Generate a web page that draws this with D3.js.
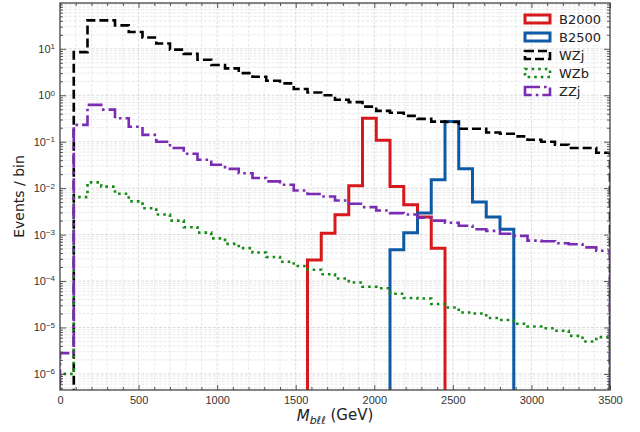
<!DOCTYPE html>
<html>
<head>
<meta charset="utf-8">
<script src="https://cdn.jsdelivr.net/npm/d3@7"></script>
<style>
  body { margin: 0; background: #fff; }
  svg { font-family: 'DejaVu Sans', sans-serif; }
</style>
</head>
<body>
<div id="chart"></div>
<script>
// 40 bins of 87.5 GeV from 0 to 3500
const binWidth = 87.5;
const nBins = 40;

const seriesNames = ['B2000', 'B2500', 'WZj', 'WZb', 'ZZj'];

const b2000 = [0, 0, 0, 0, 0, 0, 0, 0, 0, 0,
  0, 0, 0, 0, 0, 0, 0, 0, 2.85e-4, 1.07e-3,
  2.66e-3, 0.0112, 0.32, 0.107, 0.0108, 0.0044, 0.0024, 0.00051, 0, 0,
  0, 0, 0, 0, 0, 0, 0, 0, 0, 0];

const b2500 = [0, 0, 0, 0, 0, 0, 0, 0, 0, 0,
  0, 0, 0, 0, 0, 0, 0, 0, 0, 0,
  0, 0, 0, 0, 4.7e-4, 1.1e-3, 2.9e-3, 0.0151, 0.272, 0.026,
  0.0050, 0.0024, 0.00131, 0, 0, 0, 0, 0, 0, 0];

const wzj = [0, 8.5, 41, 41, 32, 23, 17.5, 13, 9.6, 7.8,
  5.8, 4.5, 3.8, 3.0, 2.5, 2.05, 1.8, 1.36, 1.15, 1.0,
  0.80, 0.71, 0.57, 0.46, 0.42, 0.36, 0.31, 0.27, 0.265, 0.19,
  0.19, 0.158, 0.148, 0.13, 0.11, 0.10, 0.086, 0.073, 0.073, 0.058];

const wzb = [1.0e-6, 0.0064, 0.0133, 0.0108, 0.0076, 0.0052, 0.0037, 0.0027, 0.0020, 0.00144,
  0.0011, 0.00083, 0.00063, 0.00051, 0.00041, 0.00033, 0.00026, 0.00021, 1.75e-4, 1.4e-4,
  1.13e-4, 9.3e-5, 7.5e-5, 7.0e-5, 5.3e-5, 4.3e-5, 4.2e-5, 3.2e-5, 2.7e-5, 2.1e-5,
  2.0e-5, 1.6e-5, 1.45e-5, 1.2e-5, 1.05e-5, 9.6e-6, 8.5e-6, 6.6e-6, 5.0e-6, 6.2e-6];

const zzj = [2.8e-6, 0.23, 0.62, 0.49, 0.32, 0.21, 0.14, 0.10, 0.073, 0.055,
  0.041, 0.032, 0.026, 0.021, 0.0165, 0.014, 0.0118, 0.0089, 0.0075, 0.0066,
  0.0054, 0.0046, 0.0039, 0.0033, 0.0029, 0.0027, 0.0023, 0.0020, 0.0018, 0.00155,
  0.0013, 0.0012, 0.00104, 0.00094, 0.00074, 0.00072, 0.00065, 0.00062, 0.00053, 0.00045];

const xTicks = [0, 500, 1000, 1500, 2000, 2500, 3000, 3500];
const yTicks = [1e-6, 1e-5, 1e-4, 1e-3, 1e-2, 1e-1, 1, 10];
const yExponents = ['−6', '−5', '−4', '−3', '−2', '−1', '0', '1'];

const styles = {
  B2000: { color: '#d7191c', width: 3, dash: null },
  B2500: { color: '#0f5aa5', width: 3, dash: null },
  WZj: { color: '#000000', width: 2.6, dash: '9,4' },
  WZb: { color: '#168a16', width: 2.6, dash: '2.6,4' },
  ZZj: { color: '#7a2db3', width: 2.6, dash: '15,4,2.6,4' }
};

const seriesData = { B2000: b2000, B2500: b2500, WZj: wzj, WZb: wzb, ZZj: zzj };

const W = 640, H = 432;
const margin = { top: 3, right: 30, bottom: 42, left: 60 };
const width = W - margin.left - margin.right,
  height = H - margin.top - margin.bottom;

const svg = d3.select('#chart')
  .append('svg')
    .attr('width', W)
    .attr('height', H);

const g = svg.append('g')
  .attr('transform', 'translate(' + margin.left + ',' + margin.top + ')');

const xScale = d3.scaleLinear()
  .domain([0, 3500])
  .range([0, width]);

const yScale = d3.scaleLog()
  .domain([4.5e-7, 97])
  .range([height, 0]);

// minor tick values
const xMinor = d3.range(0, 3501, 100).filter(v => v % 500 !== 0);
const yMinor = [];
for (let e = -7; e <= 1; e++) {
  for (let m = 2; m <= 9; m++) {
    const v = m * Math.pow(10, e);
    if (v > 4.5e-7 && v < 97) yMinor.push(v);
  }
}

// grid
const grid = g.append('g').attr('class', 'grid');
grid.selectAll('.gx')
  .data(d3.range(100, 3500, 100))
  .enter()
  .append('line')
    .attr('x1', d => xScale(d)).attr('x2', d => xScale(d))
    .attr('y1', 0).attr('y2', height)
    .attr('stroke', d => d % 500 === 0 ? '#cfcfcf' : '#e0e0e0')
    .attr('stroke-width', 0.7)
    .attr('stroke-dasharray', '3,1.5');
grid.selectAll('.gy')
  .data(yTicks.concat(yMinor))
  .enter()
  .append('line')
    .attr('x1', 0).attr('x2', width)
    .attr('y1', d => yScale(d)).attr('y2', d => yScale(d))
    .attr('stroke', d => yTicks.includes(d) ? '#cfcfcf' : '#e0e0e0')
    .attr('stroke-width', 0.7)
    .attr('stroke-dasharray', '3,1.5');

// histograms
g.append('clipPath').attr('id', 'plot-clip')
  .append('rect').attr('width', width).attr('height', height);

function stepPoints(values) {
  const pts = [];
  const low = height + 20;
  const yOf = v => v > 0 ? yScale(v) : low;
  pts.push([xScale(0), low]);
  values.forEach((v, i) => {
    pts.push([xScale(i * binWidth), yOf(v)]);
    pts.push([xScale((i + 1) * binWidth), yOf(v)]);
  });
  pts.push([xScale(nBins * binWidth), low]);
  return pts;
}

const line = d3.line();

const hists = g.append('g').attr('clip-path', 'url(#plot-clip)');
seriesNames.forEach((name) => {
  const st = styles[name];
  hists.append('path')
    .attr('d', line(stepPoints(seriesData[name])))
    .attr('fill', 'none')
    .attr('stroke', st.color)
    .attr('stroke-width', st.width)
    .attr('stroke-dasharray', st.dash)
    .attr('stroke-linejoin', 'miter');
});

// axes, ticks pointing inward on all four sides
const tickColor = '#444';
const axisB = g.append('g')
  .attr('transform', 'translate(0,' + height + ')')
  .call(d3.axisBottom(xScale).tickValues(xTicks).tickSize(-5).tickPadding(6).tickFormat(d3.format('d')));
g.append('g')
  .attr('transform', 'translate(0,' + height + ')')
  .call(d3.axisBottom(xScale).tickValues(xMinor).tickSize(-3).tickFormat(''));
g.append('g')
  .call(d3.axisTop(xScale).tickValues(xTicks).tickSize(-5).tickFormat(''));
g.append('g')
  .call(d3.axisTop(xScale).tickValues(xMinor).tickSize(-3).tickFormat(''));

const axisL = g.append('g')
  .call(d3.axisLeft(yScale).tickValues(yTicks).tickSize(-6).tickPadding(8).tickFormat(''));
g.append('g')
  .call(d3.axisLeft(yScale).tickValues(yMinor).tickSize(-3).tickFormat(''));
g.append('g')
  .attr('transform', 'translate(' + width + ',0)')
  .call(d3.axisRight(yScale).tickValues(yTicks).tickSize(-6).tickFormat(''));
g.append('g')
  .attr('transform', 'translate(' + width + ',0)')
  .call(d3.axisRight(yScale).tickValues(yMinor).tickSize(-3).tickFormat(''));

g.selectAll('.domain').remove();
g.selectAll('.tick line').attr('stroke', tickColor).attr('stroke-width', 0.9);
axisB.selectAll('text')
  .attr('font-size', '11px')
  .attr('fill', '#333');

// y tick labels as 10^n
axisL.selectAll('.tick').each(function(d, i) {
  const t = d3.select(this).select('text');
  t.attr('font-size', '11px').attr('fill', '#333').attr('x', -5).attr('dy', '0.32em');
  t.append('tspan').text('10');
  t.append('tspan').attr('dy', '-0.45em').attr('font-size', '8px').text(yExponents[i]);
});

// frame
g.append('rect')
  .attr('width', width)
  .attr('height', height)
  .attr('fill', 'none')
  .attr('stroke', '#444')
  .attr('stroke-width', 1.3);

// axis labels
svg.append('text')
  .attr('transform', 'translate(24,' + (margin.top + height / 2) + ') rotate(-90)')
  .attr('text-anchor', 'middle')
  .attr('font-size', '14px')
  .attr('fill', '#222')
  .text('Events / bin');

const xl = svg.append('text')
  .attr('x', margin.left + width / 2)
  .attr('y', 421)
  .attr('text-anchor', 'middle')
  .attr('font-size', '15px')
  .attr('fill', '#222');
xl.append('tspan').attr('font-style', 'italic').text('M');
xl.append('tspan').attr('font-style', 'italic').attr('font-size', '11px').attr('dy', '0.3em').text('bℓℓ');
xl.append('tspan').attr('dy', '-0.3em').text(' (GeV)');

// legend
const legend = svg.append('g').attr('transform', 'translate(524,0)');
seriesNames.forEach((name, i) => {
  const st = styles[name];
  const cy = 19 + i * 18;
  legend.append('rect')
    .attr('x', 1).attr('y', cy - 4)
    .attr('width', 25).attr('height', 8)
    .attr('fill', 'none')
    .attr('stroke', st.color)
    .attr('stroke-width', st.width)
    .attr('stroke-dasharray', st.dash);
  legend.append('text')
    .attr('x', 35).attr('y', cy + 5)
    .attr('font-size', '13px')
    .attr('fill', '#222')
    .text(name);
});
</script>
</body>
</html>
